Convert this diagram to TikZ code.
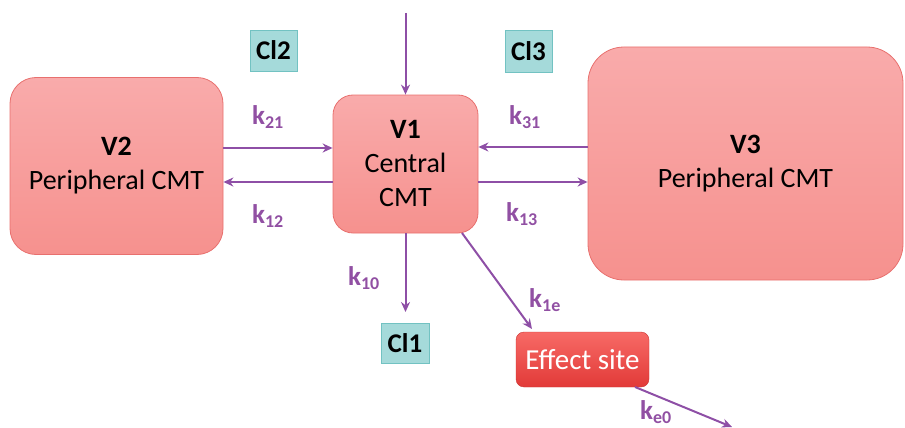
\documentclass[tikz,border=0pt]{standalone}
\usepackage{fontspec}
\setmainfont{Carlito}
\usetikzlibrary{arrows.meta,shadings}
\definecolor{boxtop}{HTML}{F9ABAB}
\definecolor{boxbot}{HTML}{F6918E}
\definecolor{boxline}{HTML}{E8706E}
\definecolor{effTop}{HTML}{F76A66}
\definecolor{effBot}{HTML}{E23A38}
\definecolor{clfill}{HTML}{A5DADA}
\definecolor{clline}{HTML}{72C2C2}
\definecolor{arr}{HTML}{8E4FA6}
\definecolor{klab}{HTML}{9150A3}
\tikzset{
  x=1pt,y=-1pt,
  cmt/.style={draw=boxline,line width=0.8pt,top color=boxtop,bottom color=boxbot,align=center,font=\fontsize{28}{34}\selectfont,text=black},
  clbox/.style={draw=clline,line width=0.7pt,fill=clfill,font=\bfseries\fontsize{27}{30}\selectfont,inner sep=0pt},
  effbox/.style={rounded corners=8pt,top color=effTop,bottom color=effBot,draw=effBot!90!black,line width=0.4pt,text=white,font=\fontsize{29}{32}\selectfont,inner sep=0pt},
  flow/.style={draw=arr,line width=2pt,-{Stealth[length=10pt,width=9pt]}},
  klabel/.style={text=klab,font=\bfseries\fontsize{27}{30}\selectfont,inner sep=0pt}
}
\newcommand{\kk}[1]{k\textsubscript{\fontsize{18}{20}\selectfont #1}}
\begin{document}
\begin{tikzpicture}
\useasboundingbox (0,0) rectangle (905,428);
% compartments
\node[cmt,rounded corners=26pt,minimum width=213pt,minimum height=177pt] (v2) at (116.5,166) {\textbf{V2}\\Peripheral CMT};
\node[cmt,rounded corners=20pt,minimum width=145pt,minimum height=138pt] (v1) at (405.5,164) {\textbf{V1}\\Central\\CMT};
\node[cmt,rounded corners=36pt,minimum width=315pt,minimum height=233pt] (v3) at (745.5,163.5) {\textbf{V3}\\Peripheral CMT};
% Cl boxes
\node[clbox,minimum width=47pt,minimum height=41pt] (cl2) at (273.5,50.5) {Cl2};
\node[clbox,minimum width=47pt,minimum height=42pt] (cl3) at (528.5,51) {Cl3};
\node[clbox,minimum width=48pt,minimum height=40pt] (cl1) at (405,343) {Cl1};
% effect site
\node[effbox,minimum width=133pt,minimum height=55pt] (eff) at (582.5,359.5) {Effect site};
% free coordinates
\coordinate (in) at (405.5,13);
\coordinate (out) at (732,427);
% arrows
\draw[flow] (in) -- (v1.north);
\draw[flow] (v2.east |- 0,148) -- (v1.west |- 0,148);
\draw[flow] (v1.west |- 0,182) -- (v2.east |- 0,182);
\draw[flow] (v3.west |- 0,147) -- (v1.east |- 0,147);
\draw[flow] (v1.east |- 0,182) -- (v3.west |- 0,182);
\draw[flow] (v1.south) -- (405.5,312);
\coordinate (v1se) at (462,233);
\draw[flow] (v1se) -- (532,329);
\coordinate (effse) at (635,387);
\draw[flow] (effse) -- (out);
% labels
\node[klabel] (l21) at (268,117) {\kk{21}};
\node[klabel] (l12) at (268,216) {\kk{12}};
\node[klabel] (l31) at (525,117) {\kk{31}};
\node[klabel] (l13) at (522,214) {\kk{13}};
\node[klabel] (l10) at (364,278) {\kk{10}};
\node[klabel] (l1e) at (545,300) {\kk{1e}};
\node[klabel] (le0) at (656,412) {\kk{e0}};
\end{tikzpicture}
\end{document}
